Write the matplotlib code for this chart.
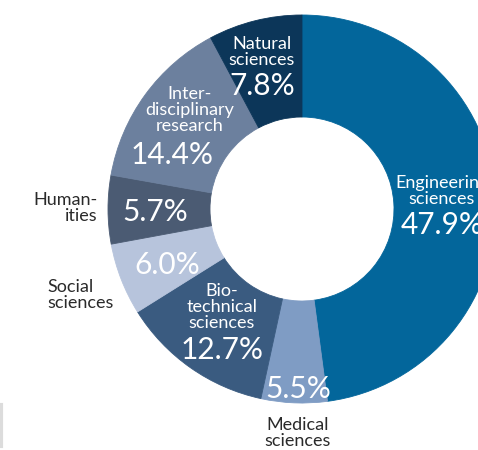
import matplotlib
matplotlib.use("Agg")
import matplotlib.pyplot as plt

# share of research by field (clockwise from top)
fields = ["Engineering\nsciences", "Medical\nsciences", "Bio-\ntechnical\nsciences",
          "Social\nsciences", "Human-\nities", "Inter-\ndisciplinary\nresearch",
          "Natural\nsciences"]
shares = [47.9, 5.5, 12.7, 6.0, 5.7, 14.4, 7.8]
colors = ["#03669b", "#7f9cc4", "#3a5b80", "#b7c4dc", "#4b5b73", "#6c809e", "#0c3659"]

plt.rcParams['font.family'] = ['Lato', 'DejaVu Sans']

W, H = 478, 450
fig = plt.figure(figsize=(W / 100, H / 100), dpi=100)
ax = fig.add_axes([0, 0, 1, 1])

cx, cy, R, r = 302, H - 209, 194, 92
ax.pie(shares, colors=colors, startangle=90, counterclock=False,
       center=(cx, cy), radius=R,
       wedgeprops=dict(width=R - r, linewidth=0.6))
for w, c in zip(ax.patches, colors):
    w.set_edgecolor(c)

ax.set_xlim(0, W)
ax.set_ylim(0, H)
ax.set_aspect('equal')
ax.axis('off')

# layout: (label x, label y, pct x, pct y, label inside?) in pixel coords from top
layout = [
    (442, 191, 442, 225, True),
    (298, 433, 298, 389, False),
    (222, 307, 222, 350, True),
    (47, 295, 167, 265, False),
    (98, 208, 155, 212, False),
    (190, 110, 172, 155, True),
    (262, 52, 262, 86, True),
]

for name, pct, (lx, ly, px, py, inside) in zip(fields, shares, layout):
    ax.text(px, H - py, f"{pct:.1f}%", color="white", fontsize=21.5,
            ha="center", va="center")
    if inside:
        ax.text(lx, H - ly, name, color="white", fontsize=13,
                ha="center", va="center", linespacing=0.98, multialignment="center")
    else:
        ha = "left" if lx < 60 else ("right" if lx < 110 else "center")
        ax.text(lx, H - ly, name, color="#2a2a2a", fontsize=13,
                ha=ha, va="center", linespacing=0.98, multialignment=ha)

# faint edge of neighbouring panel
ax.plot([1.5, 1.5], [H - 405, H - 446], color="#dcdcdc", lw=3)

fig.savefig("out.png", dpi=100)
